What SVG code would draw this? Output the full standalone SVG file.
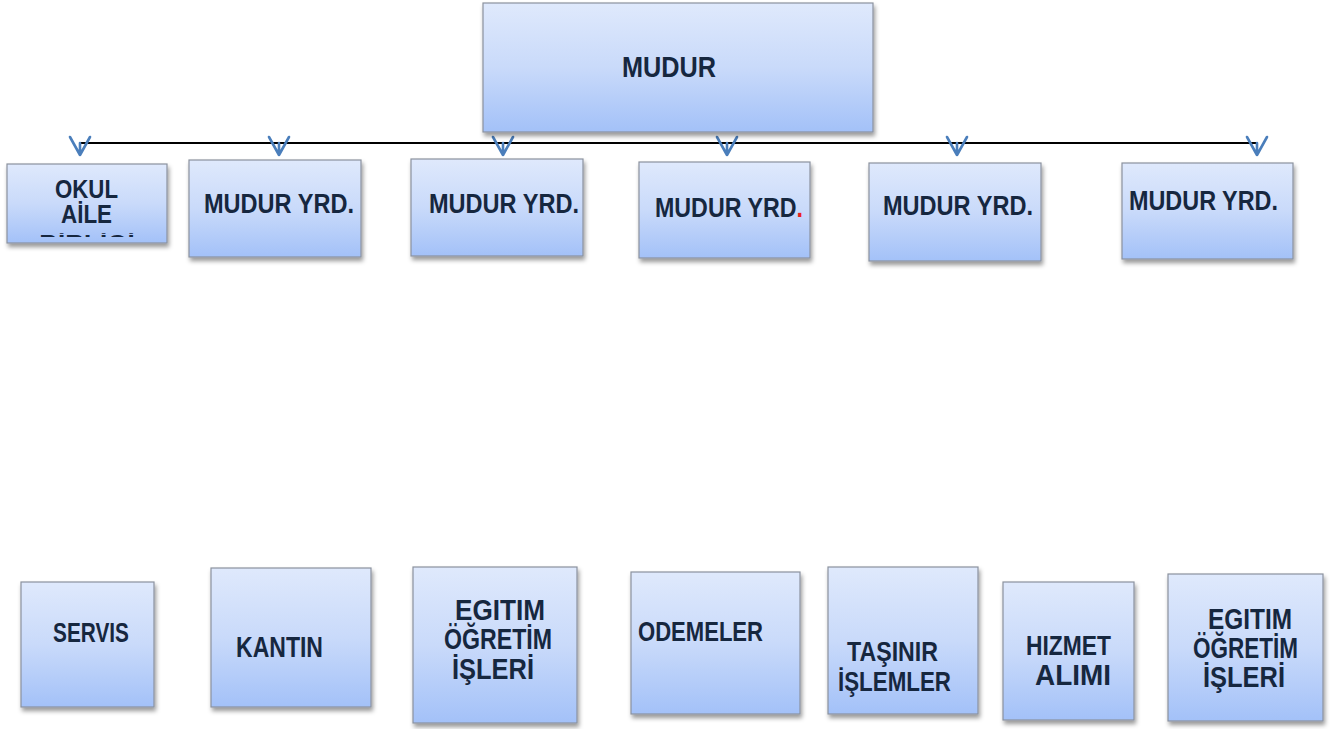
<svg xmlns="http://www.w3.org/2000/svg" width="1333" height="729" viewBox="0 0 1333 729">
<style>
.box{fill:url(#g);stroke:#8b929e;stroke-width:1.2;filter:url(#sh)}
.t{font-family:"Liberation Sans",Arial,sans-serif;font-weight:bold;fill:#16273f}
.hl{stroke:#000;stroke-width:2;fill:none}
.ar{stroke:#4a7ebb;stroke-width:2.6;fill:none;stroke-linecap:round;stroke-linejoin:round}
</style>
<defs>
<linearGradient id="g" x1="0" y1="0" x2="0" y2="1">
<stop offset="0" stop-color="#dfe9fc"/>
<stop offset="0.5" stop-color="#c9dafa"/>
<stop offset="1" stop-color="#a3c1f8"/>
</linearGradient>
<filter id="sh" x="-10%" y="-10%" width="125%" height="130%">
<feDropShadow dx="1.5" dy="3.5" stdDeviation="2" flood-color="#000" flood-opacity="0.4"/>
</filter>
<clipPath id="c3"><rect x="20" y="233" width="140" height="4"/></clipPath>
</defs>
<g id="connectors">
<line class="hl" x1="80" y1="143" x2="1258" y2="143"/>
<path class="ar" d="M80,143V155M70,137L80,155L90,137"/>
<path class="ar" d="M279,143V155M269,137L279,155L289,137"/>
<path class="ar" d="M503,143V155M493,137L503,155L513,137"/>
<path class="ar" d="M727,143V155M717,137L727,155L737,137"/>
<path class="ar" d="M957,143V155M947,137L957,155L967,137"/>
<path class="ar" d="M1257,143V155M1247,137L1257,155L1267,137"/>
</g>
<g id="mudur">
<rect class="box" x="483" y="3" width="390" height="129"/>
<text class="t" x="622" y="77" font-size="29" textLength="94" lengthAdjust="spacingAndGlyphs">MUDUR</text>
</g>
<g id="okul-aile">
<rect class="box" x="7" y="164" width="160" height="79"/>
<text class="t" x="55" y="198" font-size="26" textLength="63" lengthAdjust="spacingAndGlyphs">OKUL</text>
<text class="t" x="61" y="223" font-size="26" textLength="51" lengthAdjust="spacingAndGlyphs">AİLE</text>
<text class="t" x="87" y="253" font-size="26" text-anchor="middle" clip-path="url(#c3)">BİRLİĞİ</text>
</g>
<g id="yrd1">
<rect class="box" x="189" y="160" width="172" height="97"/>
<text class="t" x="204" y="213" font-size="27" textLength="150" lengthAdjust="spacingAndGlyphs">MUDUR YRD.</text>
</g>
<g id="yrd2">
<rect class="box" x="411" y="159" width="172" height="97"/>
<text class="t" x="429" y="213" font-size="27" textLength="150" lengthAdjust="spacingAndGlyphs">MUDUR YRD.</text>
</g>
<g id="yrd3">
<rect class="box" x="639" y="162" width="171" height="96"/>
<text class="t" x="655" y="217" font-size="27" textLength="148" lengthAdjust="spacingAndGlyphs">MUDUR YRD<tspan style="fill:#e8201c">.</tspan></text>
</g>
<g id="yrd4">
<rect class="box" x="869" y="163" width="172" height="98"/>
<text class="t" x="883" y="215" font-size="27" textLength="150" lengthAdjust="spacingAndGlyphs">MUDUR YRD.</text>
</g>
<g id="yrd5">
<rect class="box" x="1122" y="163" width="171" height="96"/>
<text class="t" x="1129" y="210" font-size="27" textLength="149" lengthAdjust="spacingAndGlyphs">MUDUR YRD.</text>
</g>
<g id="servis">
<rect class="box" x="21" y="582" width="133" height="125"/>
<text class="t" x="53" y="642" font-size="28" textLength="76" lengthAdjust="spacingAndGlyphs">SERVIS</text>
</g>
<g id="kantin">
<rect class="box" x="211" y="568" width="160" height="139"/>
<text class="t" x="236" y="657" font-size="29" textLength="87" lengthAdjust="spacingAndGlyphs">KANTIN</text>
</g>
<g id="egitim1">
<rect class="box" x="413" y="567" width="164" height="156"/>
<text class="t" x="455" y="620" font-size="29" textLength="90" lengthAdjust="spacingAndGlyphs">EGITIM</text>
<text class="t" x="444" y="649" font-size="29" textLength="108" lengthAdjust="spacingAndGlyphs">ÖĞRETİM</text>
<text class="t" x="452" y="679" font-size="29" textLength="82" lengthAdjust="spacingAndGlyphs">İŞLERİ</text>
</g>
<g id="odemeler">
<rect class="box" x="631" y="572" width="169" height="142"/>
<text class="t" x="638" y="641" font-size="28" textLength="125" lengthAdjust="spacingAndGlyphs">ODEMELER</text>
</g>
<g id="tasinir">
<rect class="box" x="828" y="567" width="150" height="147"/>
<text class="t" x="847" y="661" font-size="28" textLength="91" lengthAdjust="spacingAndGlyphs">TAŞINIR</text>
<text class="t" x="838" y="691" font-size="28" textLength="113" lengthAdjust="spacingAndGlyphs">İŞLEMLER</text>
</g>
<g id="hizmet">
<rect class="box" x="1003" y="582" width="131" height="138"/>
<text class="t" x="1026" y="655" font-size="28" textLength="85" lengthAdjust="spacingAndGlyphs">HIZMET</text>
<text class="t" x="1035" y="685" font-size="30" textLength="76" lengthAdjust="spacingAndGlyphs">ALIMI</text>
</g>
<g id="egitim2">
<rect class="box" x="1168" y="574" width="155" height="147"/>
<text class="t" x="1208" y="629" font-size="29" textLength="84" lengthAdjust="spacingAndGlyphs">EGITIM</text>
<text class="t" x="1193" y="658" font-size="29" textLength="105" lengthAdjust="spacingAndGlyphs">ÖĞRETİM</text>
<text class="t" x="1203" y="687" font-size="29" textLength="82" lengthAdjust="spacingAndGlyphs">İŞLERİ</text>
</g>
</svg>
